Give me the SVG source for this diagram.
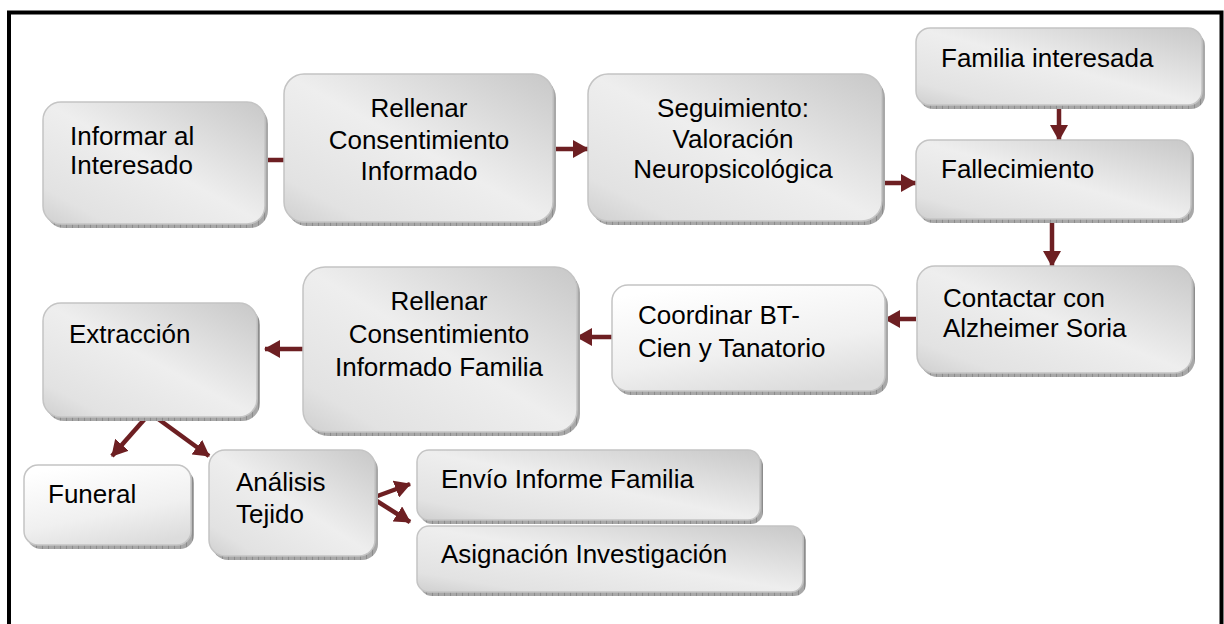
<svg xmlns="http://www.w3.org/2000/svg" width="1224" height="624" viewBox="0 0 1224 624">
<defs>
<linearGradient id="g" x1="1" y1="0" x2="0" y2="1">
<stop offset="0" stop-color="#c8c8c8"/>
<stop offset="0.5" stop-color="#eeeeee"/>
<stop offset="0.85" stop-color="#e2e2e2"/>
<stop offset="1" stop-color="#cfcfcf"/>
</linearGradient>
<linearGradient id="gl" x1="0.3" y1="0" x2="0.7" y2="1">
<stop offset="0" stop-color="#ffffff"/>
<stop offset="0.6" stop-color="#f0f0f0"/>
<stop offset="1" stop-color="#dcdcdc"/>
</linearGradient>
<pattern id="hatch" width="6" height="6" patternUnits="userSpaceOnUse">
<rect width="6" height="6" fill="#a8a8a8"/>
<path d="M0 0V6" stroke="#707070" stroke-width="1"/>
</pattern>
<marker id="ah" markerUnits="userSpaceOnUse" markerWidth="18" markerHeight="18" refX="15" refY="9" orient="auto">
<path d="M0 0L16 9L0 18Z" fill="#6d1f22"/>
</marker>
</defs>
<style>
.sh{fill:url(#hatch)}
.bx{fill:url(#g);stroke:#c4c4c4;stroke-width:1.5}
.bl{fill:url(#gl);stroke:#c4c4c4;stroke-width:1.5}
text{font-family:"Liberation Sans",Arial,sans-serif;font-size:26px;fill:#000}
.c{text-anchor:middle}
.ln{stroke:#6d1f22;stroke-width:4.5;fill:none}
.ar{stroke:#6d1f22;stroke-width:4.5;fill:none;marker-end:url(#ah)}
</style>
<rect x="0" y="0" width="1224" height="624" fill="#ffffff"/>
<path d="M9 640V12.5H1221.5V640" fill="none" stroke="#000" stroke-width="4"/>

<g id="connectors">
<line class="ln" x1="265" y1="160" x2="286" y2="160"/>
<line class="ar" x1="553" y1="149" x2="588" y2="149"/>
<line class="ar" x1="882" y1="183" x2="916" y2="183"/>
<line class="ar" x1="1059" y1="106" x2="1059" y2="140"/>
<line class="ar" x1="1052" y1="220" x2="1052" y2="266"/>
<line class="ar" x1="916" y1="319" x2="885" y2="319"/>
<line class="ar" x1="612" y1="337" x2="577" y2="337"/>
<line class="ar" x1="303" y1="349" x2="265" y2="349"/>
<line class="ar" x1="150" y1="413" x2="112" y2="456"/>
<line class="ar" x1="150" y1="413" x2="209" y2="456"/>
<line class="ar" x1="372" y1="498" x2="410" y2="484"/>
<line class="ar" x1="372" y1="498" x2="410" y2="522"/>
</g>

<g id="n-informar">
<rect class="sh" x="46" y="106" width="222" height="122" rx="18"/>
<rect class="bx" x="43" y="102" width="222" height="122" rx="18"/>
<text x="70" y="145">Informar al</text>
<text x="70" y="174">Interesado</text>
</g>

<g id="n-rellenar">
<rect class="sh" x="287" y="78" width="269" height="148" rx="20"/>
<rect class="bx" x="284" y="74" width="269" height="148" rx="20"/>
<text class="c" x="419" y="117">Rellenar</text>
<text class="c" x="419" y="149">Consentimiento</text>
<text class="c" x="419" y="180">Informado</text>
</g>

<g id="n-seguimiento">
<rect class="sh" x="591" y="78" width="294" height="147" rx="20"/>
<rect class="bx" x="588" y="74" width="294" height="147" rx="20"/>
<text class="c" x="733" y="117">Seguimiento:</text>
<text class="c" x="733" y="148">Valoración</text>
<text class="c" x="733" y="178">Neuropsicológica</text>
</g>

<g id="n-familia">
<rect class="sh" x="919" y="32" width="286" height="77" rx="14"/>
<rect class="bx" x="916" y="28" width="286" height="77" rx="14"/>
<text x="941" y="67">Familia interesada</text>
</g>

<g id="n-fallecimiento">
<rect class="sh" x="919" y="144" width="275" height="79" rx="14"/>
<rect class="bx" x="916" y="140" width="275" height="79" rx="14"/>
<text x="941" y="178">Fallecimiento</text>
</g>

<g id="n-contactar">
<rect class="sh" x="920" y="270" width="275" height="107" rx="18"/>
<rect class="bx" x="917" y="266" width="275" height="107" rx="18"/>
<text x="943" y="307">Contactar con</text>
<text x="943" y="337">Alzheimer Soria</text>
</g>

<g id="n-coordinar">
<rect class="sh" x="615" y="289" width="273" height="106" rx="16"/>
<rect class="bl" x="612" y="285" width="273" height="106" rx="16"/>
<text x="638" y="324">Coordinar  BT-</text>
<text x="638" y="357">Cien y Tanatorio</text>
</g>

<g id="n-rellenar-familia">
<rect class="sh" x="306" y="271" width="274" height="165" rx="22"/>
<rect class="bx" x="303" y="267" width="274" height="165" rx="22"/>
<text class="c" x="439" y="310">Rellenar</text>
<text class="c" x="439" y="343">Consentimiento</text>
<text class="c" x="439" y="376">Informado Familia</text>
</g>

<g id="n-extraccion">
<rect class="sh" x="46" y="307" width="214" height="114" rx="18"/>
<rect class="bx" x="43" y="303" width="214" height="114" rx="18"/>
<text x="69" y="343">Extracción</text>
</g>

<g id="n-funeral">
<rect class="sh" x="27" y="469" width="167" height="80" rx="14"/>
<rect class="bl" x="24" y="465" width="167" height="80" rx="14"/>
<text x="48" y="503">Funeral</text>
</g>

<g id="n-analisis">
<rect class="sh" x="212" y="454" width="166" height="106" rx="16"/>
<rect class="bx" x="209" y="450" width="166" height="106" rx="16"/>
<text x="236" y="491">Análisis</text>
<text x="236" y="523">Tejido</text>
</g>

<g id="n-envio">
<rect class="sh" x="420" y="454" width="343" height="70" rx="12"/>
<rect class="bx" x="417" y="450" width="343" height="70" rx="12"/>
<text x="441" y="488">Envío Informe Familia</text>
</g>

<g id="n-asignacion">
<rect class="sh" x="420" y="530" width="386" height="66" rx="12"/>
<rect class="bx" x="417" y="526" width="386" height="66" rx="12"/>
<text x="441" y="563">Asignación Investigación</text>
</g>
</svg>
